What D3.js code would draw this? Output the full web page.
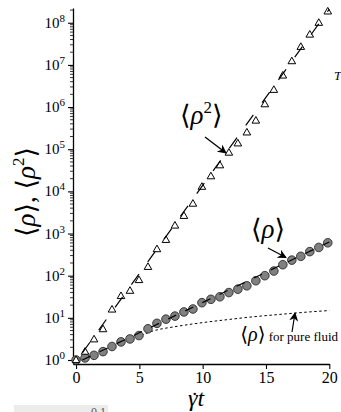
<!DOCTYPE html>
<html><head><meta charset="utf-8">
<script src="https://cdn.jsdelivr.net/npm/d3@7"></script>
<style>body{margin:0;background:#fff} svg{display:block}
svg text{font-family:"Liberation Serif","Times New Roman","DejaVu Serif",serif;}
</style>
</head><body>
<svg id="c" width="341" height="412"></svg>
<script>
// ---- data ----
const times = [0, 0.71, 1.42, 2.13, 2.84, 3.55, 4.26, 4.97, 5.68, 6.39, 7.1, 7.81, 8.52, 9.23, 9.94,
  10.65, 11.36, 12.07, 12.78, 13.49, 14.2, 14.91, 15.62, 16.33, 17.04, 17.75, 18.46, 19.17, 19.88];
const rhoMean = [1.0, 1.12, 1.29, 1.58, 2.09, 2.69, 3.16, 3.8, 5.5, 7.4, 9.3, 11, 13.8, 16.2, 22.9,
  27.5, 31.6, 39.8, 47.9, 57.5, 75.9, 100, 129, 182, 234, 288, 372, 468, 603];
const rho2Mean = [1.0, 1.58, 3.1, 5.4, 15.8, 33, 44, 79, 162, 427, 708, 1550, 2630, 5130, 12900,
  22900, 41700, 83200, 138000, 251000, 479000, 1.17e6, 2.57e6, 5.62e6, 1.23e7, 2.69e7, 5.25e7, 1.0e8, 1.86e8];
// exponential fits (endpoints)
const fitRhoT = [0.5, 20];
const fitRhoV = [1.0, 630];
const fitRho2T = [0.5, 20];
const fitRho2V = [1.48, 2.1e8];
// pure fluid <rho>
const pureT = [0, 1, 2, 3, 4, 5, 6, 8, 10, 12, 14, 16, 18, 20];
const pureV = [1, 1.15, 1.6, 2.2, 2.9, 3.7, 4.8, 6.3, 7.7, 9.1, 10.6, 12.0, 13.5, 14.9];
const xTicks = [0, 5, 10, 15, 20];
const yExps = [0, 1, 2, 3, 4, 5, 6, 7, 8];

const svg = d3.select("#c");

const x = d3.scaleLinear().domain([-0.24, 20]).range([73, 329.3]);
const y = d3.scaleLog().domain([Math.pow(10, -0.095), Math.pow(10, 8.35)]).range([364, 8]);

svg.append("defs").append("marker")
  .attr("id", "ah").attr("viewBox", "0 0 10 10").attr("refX", 9).attr("refY", 5)
  .attr("markerWidth", 9).attr("markerHeight", 9).attr("markerUnits", "userSpaceOnUse")
  .attr("orient", "auto")
  .append("path").attr("d", "M0,0 L10,5 L0,10 L3,5 Z").attr("fill", "#000");

// axes
const gx = svg.append("g").attr("transform", "translate(0,364)")
  .call(d3.axisBottom(x).tickValues(xTicks).tickSize(5).tickSizeOuter(0));
gx.attr("font-family", null);
gx.select(".domain").attr("stroke-width", 1.3);
gx.selectAll(".tick line").attr("stroke-width", 1.1);
gx.selectAll(".tick text").attr("font-size", 16).attr("fill", "#000");

const gy = svg.append("g").attr("transform", "translate(73,0)")
  .call(d3.axisLeft(y).tickValues(yExps.map(e => Math.pow(10, e))).tickSize(5).tickSizeOuter(0).tickFormat(() => ""));
gy.attr("font-family", null);
gy.select(".domain").attr("stroke-width", 1.3);
gy.selectAll(".tick line").attr("stroke-width", 1.1);
gy.selectAll(".tick").each(function(d) {
  const t = d3.select(this).append("text").attr("x", -8).attr("y", 4.5)
    .attr("text-anchor", "end").attr("fill", "#000").attr("font-size", 15);
  t.append("tspan").text("10");
  t.append("tspan").attr("dy", -6).attr("font-size", 11).text(String(Math.round(Math.log10(d))));
});
// minor ticks
const minor = [];
yExps.forEach(e => { for (let k = 2; k <= 9; k++) { const v = k * Math.pow(10, e); if (v < y.domain()[1]) minor.push(v); } });
gy.selectAll(".minor").data(minor).join("line").attr("class", "minor")
  .attr("x1", 0).attr("x2", -3).attr("y1", d => y(d)).attr("y2", d => y(d))
  .attr("stroke", "#000").attr("stroke-width", 0.8);

// pure fluid dotted
const line = d3.line().x(d => x(d[0])).y(d => y(d[1]));
svg.append("path").datum(pureT.map((t, i) => [t, pureV[i]]))
  .attr("d", line.curve(d3.curveMonotoneX)).attr("fill", "none")
  .attr("stroke", "#000").attr("stroke-width", 1).attr("stroke-dasharray", "2.5,2.5");

// circles
svg.append("g").selectAll("circle").data(times.map((t, i) => [t, rhoMean[i]])).join("circle")
  .attr("cx", d => x(d[0])).attr("cy", d => y(d[1])).attr("r", 4.3)
  .attr("fill", "#808080").attr("stroke", "#2a2a2a").attr("stroke-width", 0.9);
// triangles
svg.append("g").selectAll("path").data(times.map((t, i) => [t, rho2Mean[i]])).join("path")
  .attr("transform", d => `translate(${x(d[0])},${y(d[1])})`)
  .attr("d", "M0,-4 L3.8,2.6 L-3.8,2.6 Z")
  .attr("fill", "#fff").attr("stroke", "#000").attr("stroke-width", 1);

// fits
const lin = d3.line().x(d => x(d[0])).y(d => y(d[1]));
svg.append("path").datum(fitRhoT.map((t, i) => [t, fitRhoV[i]])).attr("d", lin)
  .attr("fill", "none").attr("stroke", "#000").attr("stroke-width", 1.2).attr("stroke-dasharray", "9,10");
svg.append("path").datum(fitRho2T.map((t, i) => [t, fitRho2V[i]])).attr("d", lin)
  .attr("fill", "none").attr("stroke", "#000").attr("stroke-width", 1.2).attr("stroke-dasharray", "13,15");

// labels
function mathLabel(g, parts) {
  parts.forEach(p => {
    const ts = g.append("tspan").text(p.t);
    if (p.i) ts.attr("font-style", "italic");
    if (p.dy) ts.attr("dy", p.dy);
    if (p.fs) ts.attr("font-size", p.fs);
  });
}
const l2 = svg.append("text").attr("x", 180).attr("y", 124).attr("font-size", 27);
mathLabel(l2, [{t: "⟨"}, {t: "ρ", i: 1}, {t: "2", dy: -11, fs: 17}, {t: "⟩", dy: 11}]);
svg.append("line").attr("x1", 205).attr("y1", 137).attr("x2", 226).attr("y2", 153)
  .attr("stroke", "#000").attr("stroke-width", 1.3).attr("marker-end", "url(#ah)");

const l1 = svg.append("text").attr("x", 251).attr("y", 238).attr("font-size", 27);
mathLabel(l1, [{t: "⟨"}, {t: "ρ", i: 1}, {t: "⟩"}]);
svg.append("line").attr("x1", 268).attr("y1", 248).attr("x2", 286).attr("y2", 257.5)
  .attr("stroke", "#000").attr("stroke-width", 1.3).attr("marker-end", "url(#ah)");

const lp = svg.append("text").attr("x", 338).attr("y", 341).attr("text-anchor", "end").attr("font-size", 13);
mathLabel(lp, [{t: "⟨", fs: 20}, {t: "ρ", i: 1, fs: 20}, {t: "⟩", fs: 20}, {t: " for pure fluid"}]);
svg.append("line").attr("x1", 292).attr("y1", 332).attr("x2", 295).attr("y2", 313)
  .attr("stroke", "#000").attr("stroke-width", 1.2).attr("marker-end", "url(#ah)");

// axis titles
const yl = svg.append("text").attr("transform", "translate(35,192) rotate(-90)")
  .attr("text-anchor", "middle").attr("font-size", 27);
mathLabel(yl, [{t: "⟨"}, {t: "ρ", i: 1}, {t: "⟩, ⟨"}, {t: "ρ", i: 1}, {t: "2", dy: -11, fs: 17}, {t: "⟩", dy: 11}]);

const xl = svg.append("text").attr("x", 188).attr("y", 406).attr("font-size", 24).attr("font-style", "italic");
xl.append("tspan").text("γt");
xl.append("tspan").attr("x", 191).attr("y", 407).attr("font-style", "normal").attr("font-size", 22).text("˙");

// cut-off fragments at the edges
svg.append("rect").attr("x", 14).attr("y", 405).attr("width", 94).attr("height", 8).attr("fill", "#ececec");
svg.append("text").attr("x", 106).attr("y", 416).attr("text-anchor", "end").attr("font-size", 12).attr("fill", "#555").text("0.1");
svg.append("text").attr("x", 334).attr("y", 80).attr("font-size", 13).attr("font-style", "italic").text("T");
</script>
</body></html>
